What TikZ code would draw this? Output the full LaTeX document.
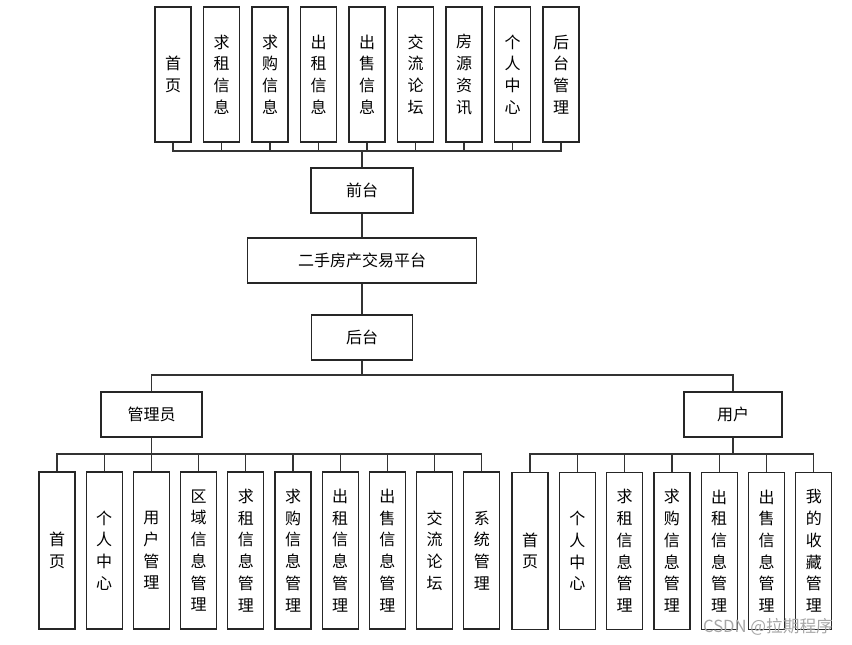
\documentclass[tikz,border=0pt]{standalone}
\usepackage{fontspec}
\newfontfamily\cjk{Noto Sans CJK SC}

\tikzset{
  box/.style={draw=black!85, line width=1pt, minimum height=33.75pt, inner sep=0pt,
    font=\cjk\fontsize{12}{14}\selectfont},
  vbox/.style={draw=black!85, line width=1pt, minimum width=27pt, inner sep=0pt,
    align=center, font=\cjk\fontsize{12}{16.3}\selectfont},
  wire/.style={draw=black!80, line width=1pt},
}

\begin{document}
\begin{tikzpicture}[x=0.75pt, y=-0.75pt]
  \useasboundingbox (0,0) rectangle (852,645);

  % front pages
  \coordinate (fbus) at (0,151);
  \node[box, minimum width=76.5pt] (front) at (362,190.5) {前台};
  \foreach \t [count=\i] in {{首\\页},{求\\租\\信\\息},{求\\购\\信\\息},{出\\租\\信\\息},
      {出\\售\\信\\息},{交\\流\\论\\坛},{房\\源\\资\\讯},{个\\人\\中\\心},{后\\台\\管\\理}} {
    \node[vbox, minimum height=101.25pt] (f\i) at ({173+48.5*(\i-1)},74.5) {\t};
    \draw[wire] (f\i.south) |- (front.north |- fbus) -- (front.north);
  }

  % platform and back end
  \node[box, minimum width=171.75pt] (platform) at (362,260.5) {二手房产交易平台};
  \node[box, minimum width=75.75pt] (back) at (362,337.5) {后台};
  \draw[wire] (front) -- (platform);
  \draw[wire] (platform) -- (back);

  % roles
  \coordinate (rbus) at (0,375);
  \node[box, minimum width=75.75pt] (admin) at (151.5,414.5) {管理员};
  \node[box, minimum width=73.5pt] (user) at (733,414.5) {用户};
  \draw[wire] (admin.north) |- (back.south |- rbus) -| (user.north);
  \draw[wire] (back.south) -- (back.south |- rbus);

  % admin functions
  \coordinate (abus) at (0,454);
  \foreach \t [count=\i] in {{首\\页},{个\\人\\中\\心},{用\\户\\管\\理},{区\\域\\信\\息\\管\\理},
      {求\\租\\信\\息\\管\\理},{求\\购\\信\\息\\管\\理},{出\\租\\信\\息\\管\\理},
      {出\\售\\信\\息\\管\\理},{交\\流\\论\\坛},{系\\统\\管\\理}} {
    \node[vbox, minimum height=117.75pt] (a\i) at ({57+47.2*(\i-1)},550.5) {\t};
    \draw[wire] (a\i.north) |- (admin.south |- abus) -- (admin.south);
  }

  % user functions
  \foreach \t [count=\i] in {{首\\页},{个\\人\\中\\心},{求\\租\\信\\息\\管\\理},
      {求\\购\\信\\息\\管\\理},{出\\租\\信\\息\\管\\理},{出\\售\\信\\息\\管\\理},
      {我\\的\\收\\藏\\管\\理}} {
    \node[vbox, minimum height=117.75pt] (u\i) at ({530+47.3*(\i-1)},551) {\t};
    \draw[wire] (u\i.north) |- (user.south |- abus) -- (user.south);
  }

  \node[text=black!35, font=\cjk\fontsize{12.5}{14}\selectfont] (mark) at (768,627) {CSDN @拉期程序};
\end{tikzpicture}
\end{document}
